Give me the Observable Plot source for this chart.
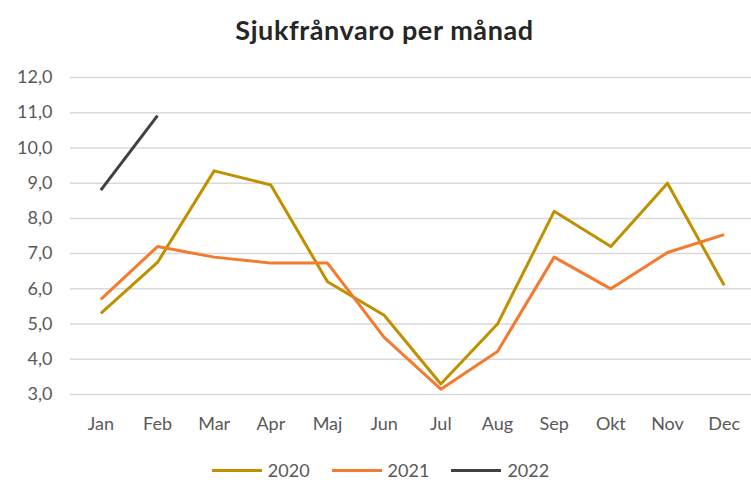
<!DOCTYPE html>
<html>
<head>
<meta charset="utf-8">
<script src="https://cdn.jsdelivr.net/npm/d3@7"></script>
<script src="https://cdn.jsdelivr.net/npm/@observablehq/plot@0.6"></script>
<style>
  body { margin: 0; background: #fff; font-family: Lato, "Open Sans", sans-serif; }
  #wrap { width: 751px; height: 485px; position: relative; overflow: hidden; }
  #title { height: 60px; line-height: 60px; text-align: center; font-weight: bold; font-size: 27px; letter-spacing: 0.6px; color: #262626; padding-left: 18px; box-sizing: border-box; }
  #legend { position: absolute; top: 459px; left: 0; width: 751px; display: flex; justify-content: center; gap: 22px; font-size: 18px; color: #595959; padding-left: 10px; box-sizing: border-box; }
  .item { display: flex; align-items: center; gap: 6px; }
  .sw { width: 50px; height: 3px; display: inline-block; }
</style>
</head>
<body>
<div id="wrap">
  <div id="title">Sjukfrånvaro per månad</div>
  <div id="chart"></div>
  <div id="legend"></div>
</div>
<script>
const months = ["Jan","Feb","Mar","Apr","Maj","Jun","Jul","Aug","Sep","Okt","Nov","Dec"];
const years = ["2020","2021","2022"];
const colors = ["#BF9000","#F47A30","#404040"];
const v2020 = [5.3, 6.75, 9.35, 8.95, 6.2, 5.25, 3.3, 5.0, 8.2, 7.2, 9.0, 6.1];
const v2021 = [5.7, 7.2, 6.9, 6.73, 6.73, 4.62, 3.15, 4.22, 6.9, 6.0, 7.03, 7.54];
const v2022 = [8.8, 10.92];
const yTicks = [3,4,5,6,7,8,9,10,11,12];

const series = [v2020, v2021, v2022];
const data = [];
series.forEach((vals, i) => vals.forEach((v, j) => data.push({year: years[i], month: months[j], value: v})));

const fmt = d => d.toFixed(1).replace(".", ",");

const chart = Plot.plot({
  width: 751,
  height: 385,
  marginTop: 17,
  marginBottom: 51,
  marginLeft: 70,
  marginRight: 0,
  style: {fontFamily: "Lato, 'Open Sans', sans-serif", fontSize: "18px", color: "#595959", background: "#fff", overflow: "visible"},
  x: {type: "band", domain: months, padding: 0, round: false, range: [72, 752], label: null},
  y: {domain: [3, 12], label: null},
  color: {domain: years, range: colors},
  marks: [
    Plot.ruleY(yTicks, {stroke: "#d9d9d9", strokeWidth: 1.5}),
    Plot.axisY({ticks: yTicks, tickFormat: fmt, tickSize: 0, tickPadding: 18, label: null, fill: "#595959"}),
    Plot.axisX({tickSize: 0, tickPadding: 23, label: null, fill: "#595959"}),
    Plot.line(data, {x: "month", y: "value", z: "year", stroke: "year", strokeWidth: 3, strokeLinejoin: "round", strokeLinecap: "butt"})
  ]
});
document.getElementById("chart").appendChild(chart);

const legend = document.getElementById("legend");
years.forEach((y, i) => {
  const it = document.createElement("div");
  it.className = "item";
  it.innerHTML = `<span class="sw" style="background:${colors[i]}"></span><span>${y}</span>`;
  legend.appendChild(it);
});
</script>
</body>
</html>
